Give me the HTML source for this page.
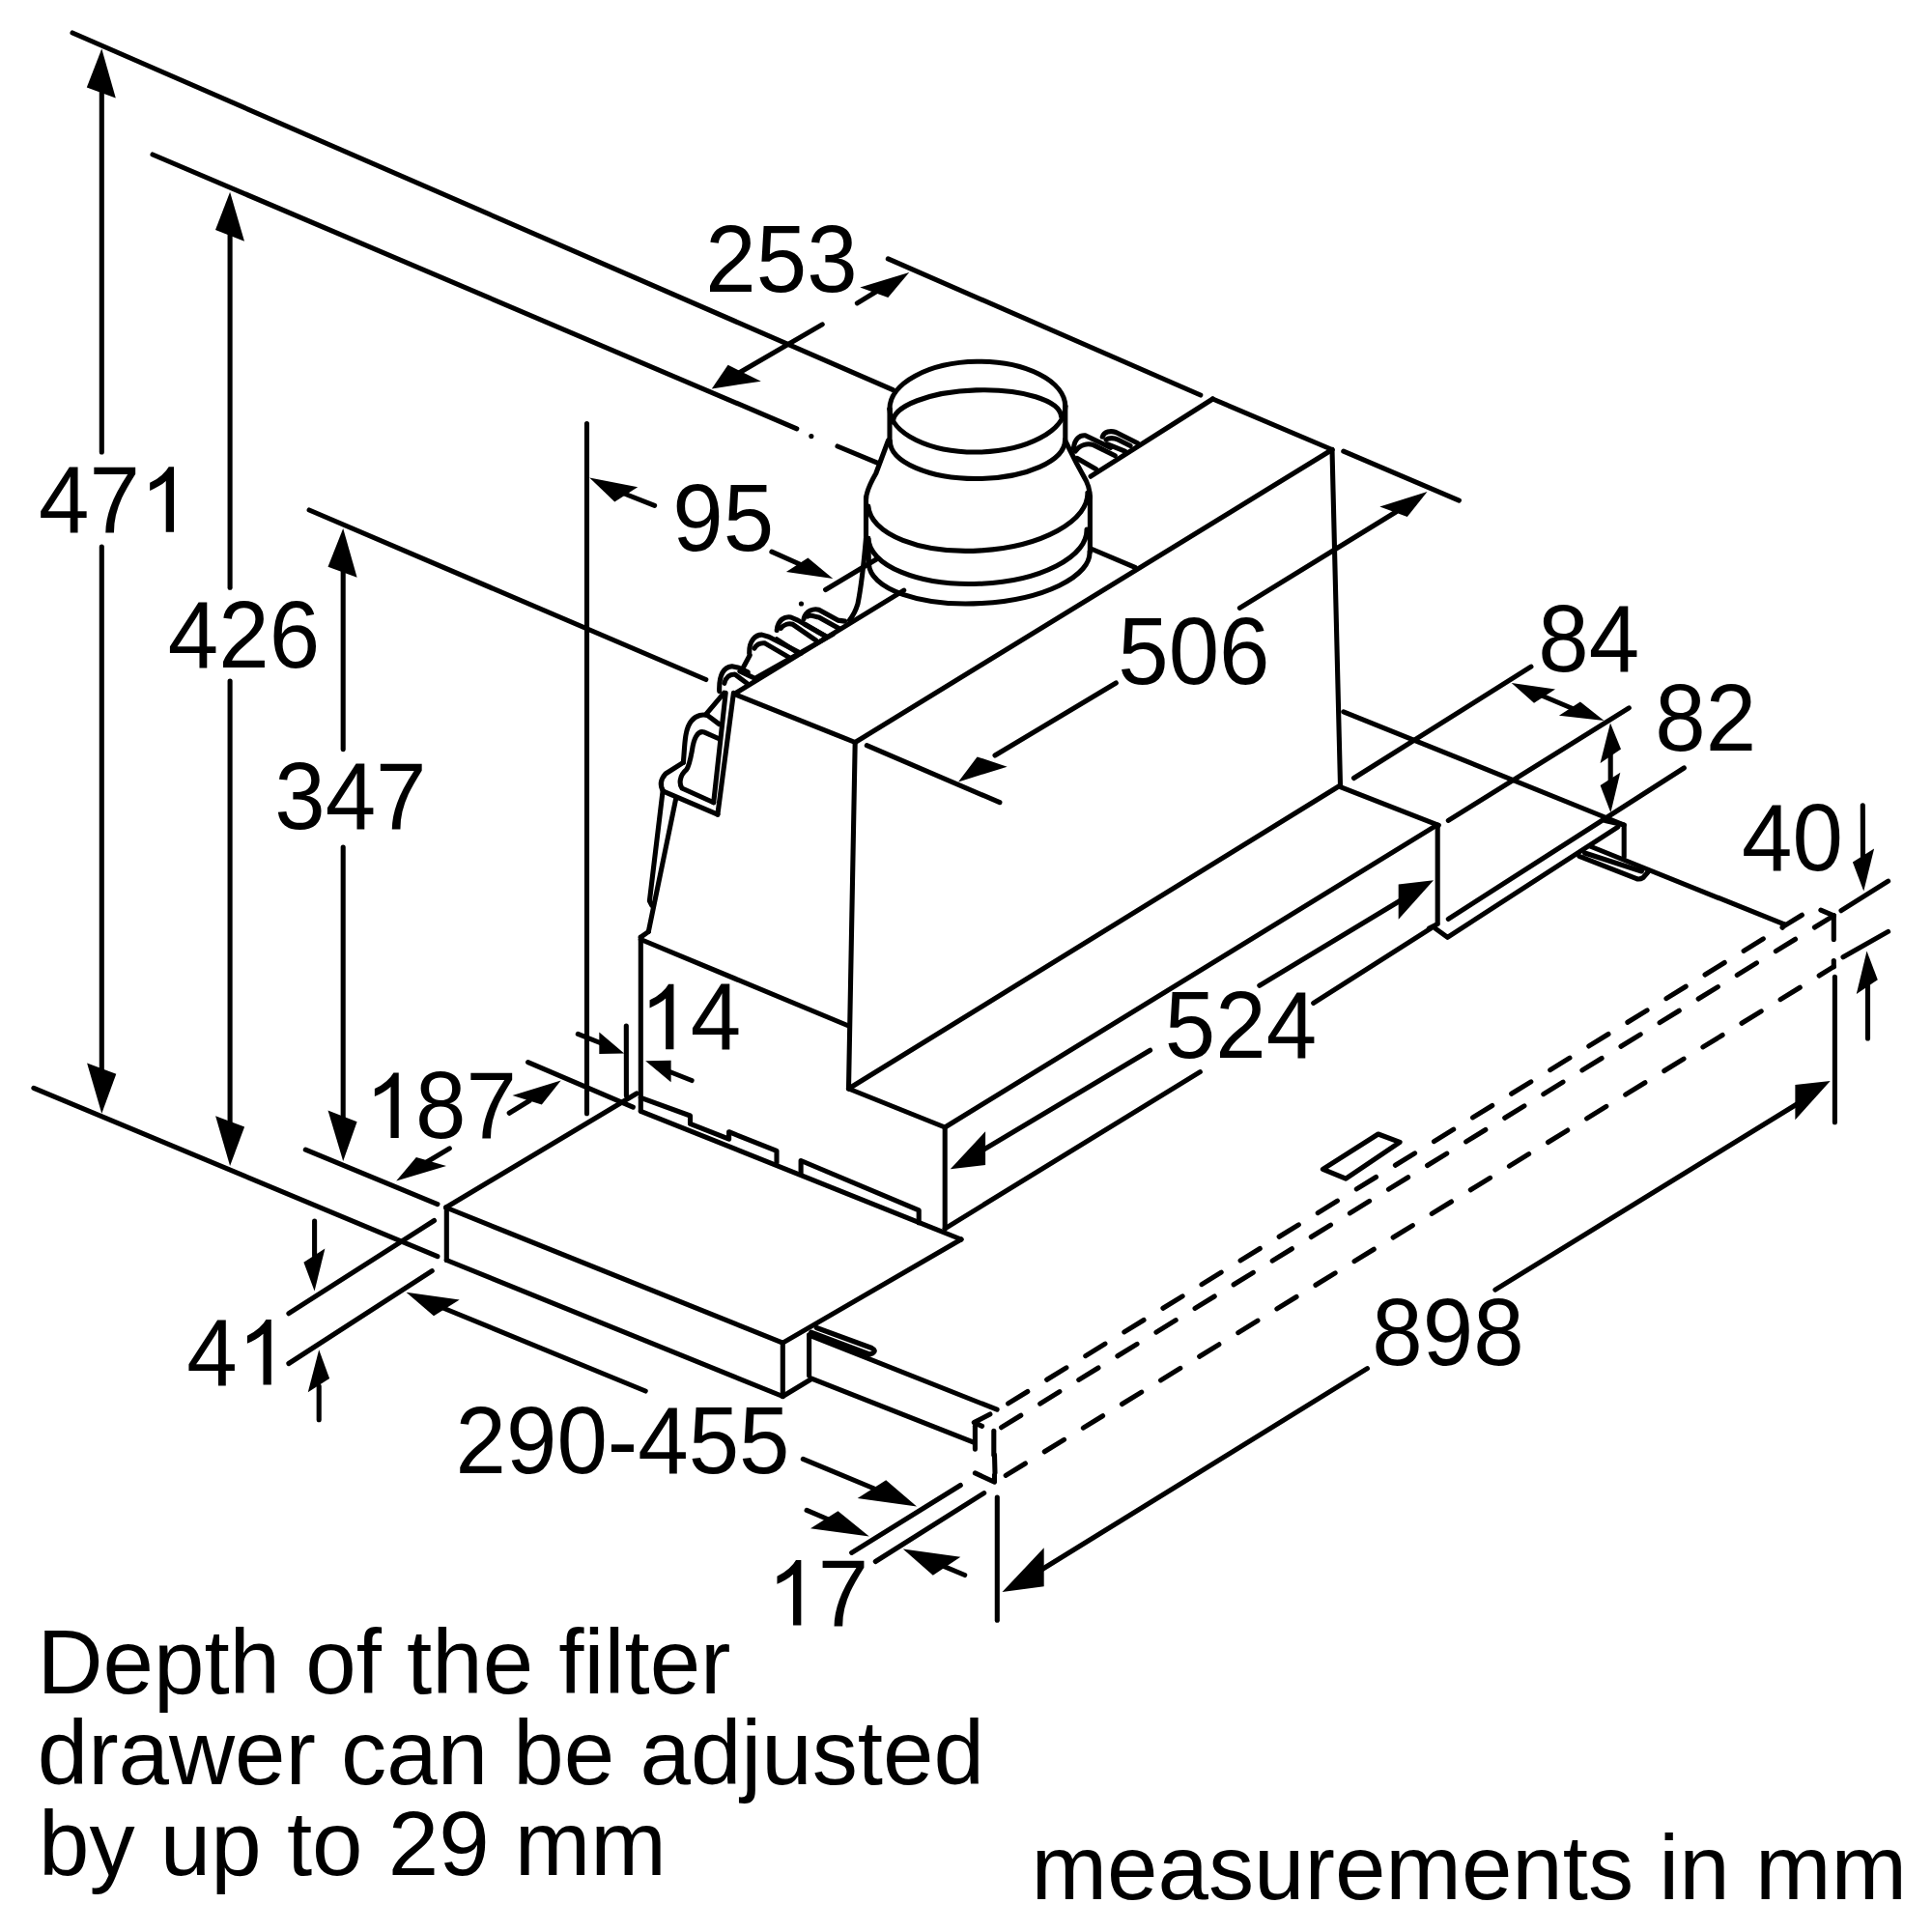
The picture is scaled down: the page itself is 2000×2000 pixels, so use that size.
<!DOCTYPE html>
<html><head><meta charset="utf-8"><style>
html,body{margin:0;padding:0;background:#fff;width:2000px;height:2000px;overflow:hidden}
svg{display:block}
text{font-family:"Liberation Sans",sans-serif;fill:#000}
path{fill:none;stroke:#000;stroke-width:5.1;stroke-linecap:round;stroke-linejoin:round}
.d{stroke-dasharray:23.7 23.36}
.f{fill:#000;stroke:none}
</style></head><body>
<svg width="2000" height="2000" viewBox="0 0 2000 2000" xmlns="http://www.w3.org/2000/svg">
<path d="M105.3,62.0 L105.3,468.0"/>
<path d="M105.3,566.0 L105.3,1140.0"/>
<polygon points="105.3,50.5 89.8,90.6 119.8,101.4" class="f"/>
<polygon points="105.3,1152.7 90.1,1100.4 120.3,1111.8" class="f"/>
<path d="M238.1,210.0 L238.1,608.2"/>
<path d="M238.1,705.0 L238.1,1195.0"/>
<polygon points="238.1,198.8 223.0,238.0 253.0,249.7" class="f"/>
<polygon points="238.1,1207.0 223.1,1155.3 253.1,1166.4" class="f"/>
<path d="M355.2,560.0 L355.2,775.6"/>
<path d="M355.2,877.0 L355.2,1190.0"/>
<polygon points="355.2,547.1 339.5,586.7 369.6,597.8" class="f"/>
<polygon points="355.2,1201.9 339.5,1149.6 369.6,1161.2" class="f"/>
<path d="M75.0,34.0 L924.4,403.7"/>
<path d="M158.0,160.0 L824.8,443.8"/>
<path d="M839.8,451.6 L839.9,451.6"/>
<path d="M867.0,462.0 L907.6,478.8"/>
<path d="M320.1,528.0 L730.8,703.5"/>
<path d="M34.9,1126.3 L452.9,1300.7"/>
<path d="M316.3,1190.2 L452.9,1246.6"/>
<path d="M919.3,267.9 L1242.8,409.0"/>
<path d="M887.4,313.9 L915.0,297.0"/>
<polygon points="941.2,282.1 890.3,297.6 919.3,308.0" class="f"/>
<path d="M851.2,335.9 L765.0,386.0"/>
<polygon points="736.8,402.4 753.6,377.8 787.8,394.7" class="f"/>
<path d="M607.5,438.5 L607.5,1152.7"/>
<polygon points="610.2,494.5 660.2,504.2 636.3,519.4" class="f"/>
<path d="M645.0,510.5 L677.6,523.4"/>
<path d="M798.9,571.2 L840.0,589.5"/>
<polygon points="862.3,599.1 813.9,591.9 836.4,577.6" class="f"/>
<path d="M854.6,610.5 L908.0,578.5"/>
<path d="M829.4,625.0 L829.5,625.0"/>
<path d="M1283.4,629.4 L1445.0,530.0"/>
<polygon points="1477.5,509.0 1428.3,524.6 1456.8,534.9" class="f"/>
<path d="M1155.3,707.0 L1030.0,782.0"/>
<polygon points="992.0,809.4 1011.6,783.4 1042.7,793.7" class="f"/>
<path d="M1390.8,467.1 L1510.4,518.1"/>
<path d="M897.3,771.7 L1034.9,830.7"/>
<path d="M1401.5,805.5 L1584.9,690.2"/>
<path d="M1499.3,849.4 L1686.3,732.9"/>
<path d="M1590.0,717.5 L1635.0,736.5"/>
<polygon points="1564.7,707.0 1610.0,713.5 1588.0,727.7" class="f"/>
<polygon points="1660.5,745.9 1613.9,740.7 1635.9,726.4" class="f"/>
<path d="M1667.2,780.0 L1667.2,810.0"/>
<polygon points="1667.0,748.4 1656.6,789.9 1678.0,775.6" class="f"/>
<polygon points="1667.4,841.2 1656.6,813.0 1677.3,799.8" class="f"/>
<path d="M1928.3,833.7 L1928.5,895.0"/>
<polygon points="1929.3,922.5 1917.9,892.5 1940.1,878.5" class="f"/>
<path d="M1906.0,942.7 L1954.6,912.1"/>
<path d="M1908.0,990.8 L1954.6,964.4"/>
<path d="M1933.5,1010.0 L1933.5,1075.0"/>
<polygon points="1932.5,984.5 1921.8,1029.0 1943.8,1014.2" class="f"/>
<path d="M648.3,1062.1 L648.4,1134.2"/>
<path d="M598.3,1070.4 L625.0,1081.0"/>
<polygon points="646.2,1090.6 620.3,1068.6 620.3,1091.1" class="f"/>
<path d="M694.6,1110.0 L716.1,1118.5"/>
<polygon points="668.2,1098.3 694.6,1097.8 694.6,1120.3" class="f"/>
<path d="M546.6,1099.6 L655.3,1146.2"/>
<path d="M527.2,1152.2 L548.0,1139.5"/>
<polygon points="580.7,1118.5 530.5,1134.1 560.8,1143.6" class="f"/>
<path d="M465.3,1188.9 L440.0,1204.0"/>
<polygon points="410.2,1222.6 430.9,1198.0 462.0,1207.0" class="f"/>
<path d="M298.9,1359.7 L449.5,1263.5"/>
<path d="M298.9,1411.5 L447.2,1315.7"/>
<path d="M325.6,1264.0 L325.6,1300.0"/>
<polygon points="325.6,1336.4 314.4,1306.7 336.4,1292.4" class="f"/>
<path d="M330.2,1435.0 L330.2,1469.7"/>
<polygon points="330.2,1397.3 318.8,1441.3 341.1,1427.0" class="f"/>
<polygon points="420.5,1337.7 475.7,1345.5 449.0,1362.3" class="f"/>
<path d="M455.0,1352.5 L668.2,1440.0"/>
<path d="M831.3,1510.4 L905.0,1541.0"/>
<polygon points="949.0,1559.5 887.7,1551.0 917.2,1532.3" class="f"/>
<path d="M835.1,1563.4 L860.0,1574.0"/>
<polygon points="899.8,1590.6 839.0,1582.3 867.5,1564.2" class="f"/>
<path d="M881.7,1607.4 L994.3,1537.5"/>
<path d="M906.3,1616.5 L1018.7,1545.6"/>
<polygon points="934.8,1603.5 965.8,1630.7 994.3,1611.8" class="f"/>
<path d="M965.0,1616.3 L998.7,1630.5"/>
<path d="M1190.6,1087.3 L1015.0,1192.0"/>
<polygon points="983.8,1210.3 1020.1,1171.2 1020.1,1206.1" class="f"/>
<path d="M1303.8,1020.3 L1455.0,929.0"/>
<polygon points="1484.0,911.3 1447.7,915.5 1447.7,951.8" class="f"/>
<path d="M1899.4,1011.4 L1899.4,1161.7"/>
<path d="M1032.3,1550.0 L1032.3,1677.3"/>
<path d="M1547.9,1335.1 L1865.0,1140.0"/>
<polygon points="1894.7,1119.0 1858.4,1122.9 1858.4,1159.2" class="f"/>
<path d="M1415.4,1416.7 L1070.0,1630.0"/>
<polygon points="1037.5,1648.0 1080.7,1602.2 1080.7,1642.3" class="f"/>
<path d="M1255.4,413.0 L1379.0,465.5"/>
<path d="M1379.0,465.5 L885.2,768.5"/>
<path d="M885.2,768.5 L760.0,718.5"/>
<path d="M760.0,718.5 L935.7,611.1"/>
<path d="M1129.1,493.2 L1255.4,413.0"/>
<path d="M1379.0,465.5 L1387.5,813.0"/>
<path d="M885.2,768.5 L878.5,1127.0"/>
<path d="M878.5,1127.0 L1387.5,813.0"/>
<path d="M686.1,818.7 L672.4,932.6 L674.7,937.2"/>
<path d="M699.7,826.7 L671.3,964.5"/>
<path d="M663.3,970.2 L671.3,964.5"/>
<path d="M663.3,970.2 L663.3,1150.0"/>
<path d="M663.3,972.5 L878.5,1062.0"/>
<path d="M663.3,1136.3 L714.5,1155.0 L714.5,1163.4 L754.6,1179.2 L754.6,1171.7 L804.0,1191.3 L804.0,1203.4"/>
<path d="M829.1,1214.6 L829.1,1201.5 L951.2,1252.8 L951.2,1265.8"/>
<path d="M663.3,1150.3 L995.0,1283.0"/>
<path d="M878.5,1127.0 L978.2,1167.0"/>
<path d="M978.2,1167.0 L1485.4,855.4"/>
<path d="M978.2,1167.0 L978.2,1271.8"/>
<path d="M978.2,1271.8 L1242.3,1109.7"/>
<path d="M1359.7,1038.4 L1482.6,960.2"/>
<path d="M1488.2,854.0 L1488.2,954.6"/>
<path d="M1387.5,814.7 L1489.3,854.4"/>
<path d="M1479.4,961.0 L1488.2,956.5"/>
<path d="M1486.0,961.2 L1498.4,970.3 L1674.8,856.1"/>
<path d="M1499.3,951.3 L1743.3,795.0"/>
<path d="M1661.6,849.4 L1681.2,854.0 L1681.2,887.1"/>
<path d="M1390.8,736.8 L1681.2,854.0"/>
<path d="M1646.0,876.0 L1847.2,956.9"/>
<path d="M1847.2,956.9 L1845.2,960.3"/>
<path d="M1640.6,883 L1699.4,902 M1634.8,886.3 L1693.6,909.4 Q1697,911 1701,908.5 L1706,902.8" stroke-width="4.2"/>
<path d="M1369.4,1210.3 L1426.7,1174 L1449.1,1182.4 L1393.2,1220.1 Z"/>
<path d="M461.6,1250.0 L659.0,1132.0"/>
<path d="M461.6,1250.0 L810.3,1390.1" stroke-width="7"/>
<path d="M462.3,1250.0 L462.3,1304.5"/>
<path d="M462.3,1304.5 L810.3,1445.5"/>
<path d="M810.3,1390.1 L810.3,1445.5"/>
<path d="M810.3,1445.5 L839.6,1427.8"/>
<path d="M810.3,1390.1 L995.0,1283.0"/>
<path d="M837.6,1381.7 L837.6,1424.1"/>
<path d="M837.6,1382.2 L1032.1,1459.2"/>
<path d="M839.6,1426.9 L1007.3,1492.8"/>
<path d="M845.2,1374.5 L902.5,1395.5 Q907.5,1397.8 903.5,1400.8 L900.2,1402 L839.6,1379.2" stroke-width="3.9"/>
<path d="M1024.9,1463.9 L1008.3,1472.6 L1016.6,1476.3"/>
<path d="M1009.4,1476.3 L1009.4,1500.1"/>
<path d="M1028.8,1481.4 L1028.8,1506.3"/>
<path d="M1029.5,1506.0 L1030.0,1524.9" stroke-width="2.5"/>
<path d="M1009.4,1524.9 L1029.5,1534.2 L1029.5,1527.0"/>
<path d="M1043.6,1452.9 L1865.4,947.2" class="d"/>
<path d="M1036.6,1477.7 L1898.3,947.8" class="d"/>
<path d="M1041.2,1527.4 L1898.3,1000.7" class="d"/>
<path d="M1898.3,947.8 L1884.9,942.1"/>
<path d="M1898.3,947.8 L1898.3,972.4"/>
<path d="M1898.3,994.6 L1898.3,1000.7"/>
<path d="M921.0,423.2 A90.91,47.79 -0.82 0 1 1102.8,420.6"/>
<path d="M921.0,423.2 A90.91,46.29 -0.82 0 0 1102.8,420.6"/>
<path d="M924.4,437.0 A87.15,30.53 -1.87 0 1 1098.6,431.3"/>
<path d="M921.0,423.0 L921.0,456.5"/>
<path d="M1102.8,420.6 L1102.8,455.0"/>
<path d="M921.3,456.5 A90.65,39.74 -0.47 0 0 1102.6,455.0"/>
<path d="M919.5,456 L906.8,490 Q896.5,508 896.5,517"/>
<path d="M1102.6,456 L1114.7,480 L1124.5,498 Q1128.4,506 1128.4,515"/>
<path d="M896.5,515.0 L896.5,557.4"/>
<path d="M898.8,557.2 L899.4,584.0"/>
<path d="M1128.4,514.0 L1128.4,571.0"/>
<path d="M898.8,524.0 A113.77,53.44 -3.53 0 0 1125.9,510.0"/>
<path d="M898.8,557.2 A113.19,51.74 -2.33 0 0 1125.0,548.0"/>
<path d="M899.4,584.0 A114.48,47.13 -3.25 0 0 1128.0,571.0"/>
<path d="M896.5,557 C894.5,580 891,610 888,625 Q885,635 879.4,642"/>
<path d="M1129.3,568.0 L1175.0,587.4"/>
<path d="M686.6,819.2 Q681,810 689,801 L707.3,789.4"/>
<path d="M707.3,789.4 C709,775 708,755 716,746 C721,740 728,739 733,741 L744.5,749.6"/>
<path d="M743.7,764.5 L728.8,757.9 C722,756 718,765 716.4,777 C714,790 712,795 710.6,796.8 C703,803 703,812 706,816 L738.7,830.8"/>
<path d="M686.6,819.2 L742.9,843.2"/>
<path d="M742.9,843.2 L759.4,717.3"/>
<path d="M738.7,830.8 L751.2,717.3"/>
<path d="M731.3,738.9 L749.5,717.3"/>
<path d="M744.7,715.6 C744.1,699 749.3,690.8 757.6,689.7 L764.8,691.3 L774.2,695.9"/>
<path d="M749.8,707.3 C751.4,701.1 755.5,698 760.7,698 L773.1,707.3"/>
<path d="M765.9,694.9 L783.5,703.2" stroke-width="7"/>
<path d="M775.7,676.3 C775.2,662.8 782.4,657.1 788.7,657.1 L795.9,659.2 L829,676.3"/>
<path d="M780.9,671.1 C783.5,667 787.6,665.4 791.8,665.9 L816.6,680.4"/>
<path d="M804.2,661.8 L827.0,676.3" stroke-width="7"/>
<path d="M804.2,652.5 C805.2,641.1 812.5,638 818.7,639 L825.9,642.1 L854.9,658.7"/>
<path d="M808.3,650.4 C811.4,646.3 816.6,645.2 820.7,646.3 L844.6,662.8"/>
<path d="M833.2,646.3 L854.9,658.7" stroke-width="7"/>
<path d="M832.1,640.6 C834.2,631.8 842.5,629.7 847.7,631.2 L867.3,642.1 L874.6,643.1"/>
<path d="M836.3,638 C839.4,635.9 843.5,638.5 847.7,639 L868.4,650.4"/>
<path d="M769.0,691.8 L776.2,678.3"/>
<path d="M783.5,701.1 L862.2,656.6"/>
<path d="M1111.4,464.3 C1112.2,454 1118,450.3 1123.5,450.8 L1149.6,463.4"/>
<path d="M1113.3,467.1 C1118,460.6 1125.4,458.7 1132,460.6 L1154.3,471.7"/>
<path d="M1141.2,452.2 C1143.1,446.6 1149.6,445.7 1155.2,447.5 L1177.6,458.7"/>
<path d="M1145,455 C1147.8,453.1 1153.4,453.1 1157.1,455 L1170.1,461.5"/>
<path d="M1145.9,459.6 L1164.5,467.1" stroke-width="6"/>
<path d="M1115.2,474.5 L1134.7,485.7" stroke-width="6"/>
<text transform="translate(40.00,550.70) scale(1,1.0405)" font-size="94.3">47</text>
<path class="f" transform="translate(144.89,550.70) scale(0.046045,-0.046045)" d="M763,0 L583,0 L583,1147 Q518,1085 412,1023 Q307,961 223,930 L223,1104 Q374,1175 487,1276 Q600,1377 647,1466 L763,1466 Z"/>
<text transform="translate(173.80,691.00) scale(1,1.0405)" font-size="94.3">426</text>
<text transform="translate(284.20,858.30) scale(1,1.0405)" font-size="94.3">347</text>
<text transform="translate(730.30,302.30) scale(1,1.0405)" font-size="94.3">253</text>
<text transform="translate(696.20,569.50) scale(1,1.0405)" font-size="94.3">95</text>
<text transform="translate(1157.20,708.20) scale(1,1.0405)" font-size="94.3">506</text>
<text transform="translate(1592.20,695.00) scale(1,1.0405)" font-size="94.3">84</text>
<text transform="translate(1713.30,776.50) scale(1,1.0405)" font-size="94.3">82</text>
<text transform="translate(1803.00,901.30) scale(1,1.0405)" font-size="94.3">40</text>
<path class="f" transform="translate(662.30,1086.20) scale(0.046045,-0.046045)" d="M763,0 L583,0 L583,1147 Q518,1085 412,1023 Q307,961 223,930 L223,1104 Q374,1175 487,1276 Q600,1377 647,1466 L763,1466 Z"/>
<text transform="translate(714.75,1086.20) scale(1,1.0405)" font-size="94.3">4</text>
<path class="f" transform="translate(377.60,1177.90) scale(0.046045,-0.046045)" d="M763,0 L583,0 L583,1147 Q518,1085 412,1023 Q307,961 223,930 L223,1104 Q374,1175 487,1276 Q600,1377 647,1466 L763,1466 Z"/>
<text transform="translate(430.05,1177.90) scale(1,1.0405)" font-size="94.3">87</text>
<text transform="translate(1205.80,1095.00) scale(1,1.0405)" font-size="94.3">524</text>
<text transform="translate(193.20,1433.50) scale(1,1.0405)" font-size="94.3">4</text>
<path class="f" transform="translate(245.65,1433.50) scale(0.046045,-0.046045)" d="M763,0 L583,0 L583,1147 Q518,1085 412,1023 Q307,961 223,930 L223,1104 Q374,1175 487,1276 Q600,1377 647,1466 L763,1466 Z"/>
<text transform="translate(1420.30,1413.20) scale(1,1.0405)" font-size="94.3">898</text>
<text transform="translate(471.50,1525.00) scale(1,1.0405)" font-size="94.3">290-455</text>
<path class="f" transform="translate(794.20,1682.50) scale(0.046045,-0.046045)" d="M763,0 L583,0 L583,1147 Q518,1085 412,1023 Q307,961 223,930 L223,1104 Q374,1175 487,1276 Q600,1377 647,1466 L763,1466 Z"/>
<text transform="translate(846.65,1682.50) scale(1,1.0405)" font-size="94.3">7</text>
<text x="38.40" y="1753.10" font-size="94.3">Depth of the filter</text>
<text x="38.70" y="1846.80" font-size="94.3">drawer can be adjusted</text>
<text x="40.00" y="1941.30" font-size="94.3">by up to 29 mm</text>
<text x="1067.50" y="1965.80" font-size="94.3">measurements in mm</text>
</svg>
</body></html>
